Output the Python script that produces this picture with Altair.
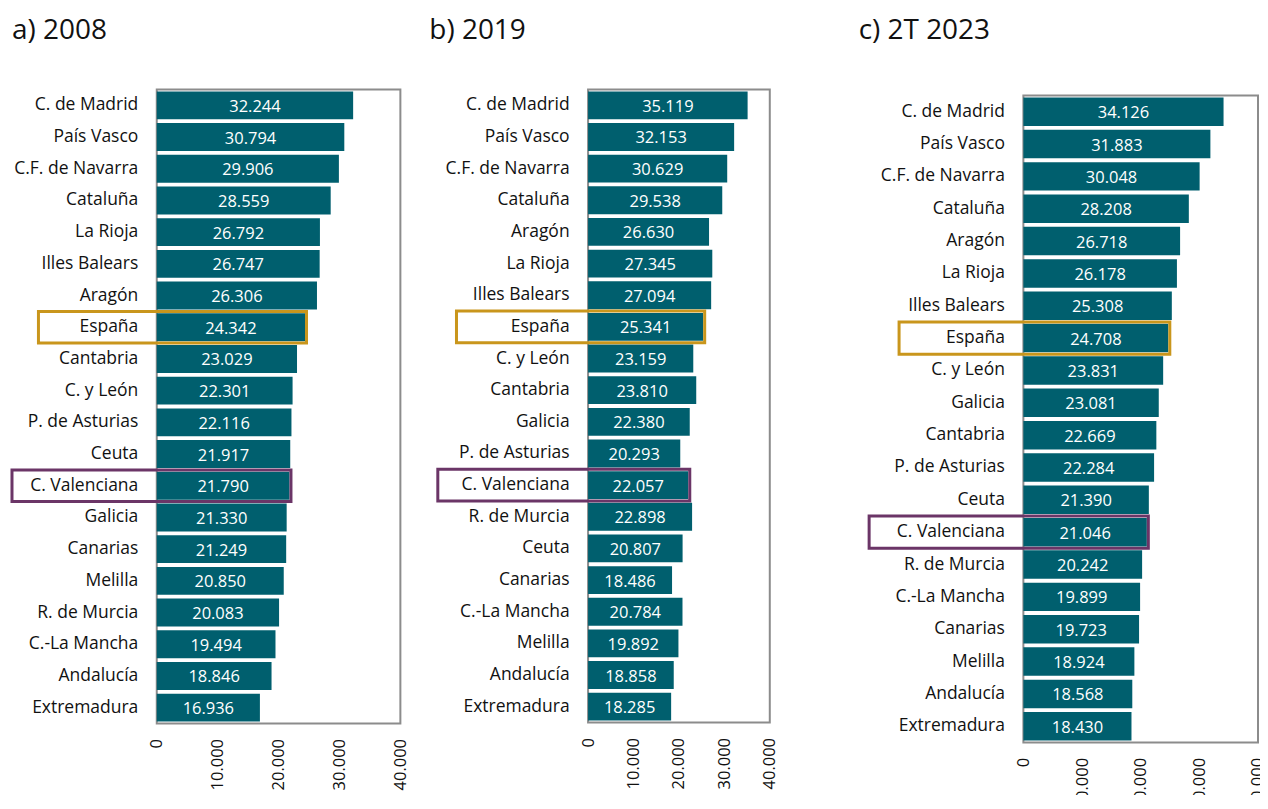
import altair as alt
import pandas as pd

# ---------------- data ----------------
regions_2008 = ["C. de Madrid", "País Vasco", "C.F. de Navarra", "Cataluña", "La Rioja",
                "Illes Balears", "Aragón", "España", "Cantabria", "C. y León",
                "P. de Asturias", "Ceuta", "C. Valenciana", "Galicia", "Canarias",
                "Melilla", "R. de Murcia", "C.-La Mancha", "Andalucía", "Extremadura"]
values_2008 = [32244, 30794, 29906, 28559, 26792, 26747, 26306, 24342, 23029, 22301,
               22116, 21917, 21790, 21330, 21249, 20850, 20083, 19494, 18846, 16936]

regions_2019 = ["C. de Madrid", "País Vasco", "C.F. de Navarra", "Cataluña", "Aragón",
                "La Rioja", "Illes Balears", "España", "C. y León", "Cantabria",
                "Galicia", "P. de Asturias", "C. Valenciana", "R. de Murcia", "Ceuta",
                "Canarias", "C.-La Mancha", "Melilla", "Andalucía", "Extremadura"]
values_2019 = [35119, 32153, 30629, 29538, 26630, 27345, 27094, 25341, 23159, 23810,
               22380, 20293, 22057, 22898, 20807, 18486, 20784, 19892, 18858, 18285]

regions_2023 = ["C. de Madrid", "País Vasco", "C.F. de Navarra", "Cataluña", "Aragón",
                "La Rioja", "Illes Balears", "España", "C. y León", "Galicia",
                "Cantabria", "P. de Asturias", "Ceuta", "C. Valenciana", "R. de Murcia",
                "C.-La Mancha", "Canarias", "Melilla", "Andalucía", "Extremadura"]
values_2023 = [34126, 31883, 30048, 28208, 26718, 26178, 25308, 24708, 23831, 23081,
               22669, 22284, 21390, 21046, 20242, 19899, 19723, 18924, 18568, 18430]

titles = ["a) 2008", "b) 2019", "c) 2T 2023"]
x_ticks = [0, 10000, 20000, 30000, 40000]

# ---------------- style ----------------
FONT = "Open Sans"
TEAL = "#005F6E"
GOLD = "#C9961C"
PURPLE = "#6B3567"
FRAME = "#8C8C8C"
TXT = "#111111"

# per-panel layout: width, height, top shift, title position, box left offsets
layouts = [
    dict(w=244, h=635, top=0, tx=-145, ty=-51, esp=118.5, cv=145.0),
    dict(w=182, h=634, top=0, tx=-159, ty=-51, esp=131.8, cv=150.5),
    dict(w=235, h=648, top=6, tx=-165, ty=-57, esp=124.5, cv=154.5),
]
GAPS = [188, 254]


def fmt(v):
    return f"{v:,}".replace(",", ".")


def spacer(w, h):
    return alt.Chart(pd.DataFrame({"s": [0]})).mark_point(opacity=0).encode(
        x=alt.value(0), y=alt.value(0)
    ).properties(width=w, height=h, view=alt.ViewBackground(stroke="transparent"))


def panel(regions, values, title, L):
    df = pd.DataFrame({"region": regions, "value": values})
    df["label"] = [fmt(v) for v in values]
    df["half"] = df["value"] / 2
    base = alt.Chart(df)

    xscale = alt.Scale(domain=[0, 40000], nice=False, zero=True)
    xaxis = alt.Axis(values=x_ticks, labelAngle=270, ticks=False, domain=False, grid=False,
                     labelPadding=15, labelFontSize=16.5, labelFont=FONT, labelColor=TXT,
                     labelExpr="replace(format(datum.value, ','), ',', '.')", title=None)
    yaxis = alt.Axis(ticks=False, domain=False, grid=False, labelPadding=19,
                     labelFontSize=17.5, labelFont=FONT, labelColor=TXT, labelLimit=300,
                     title=None)

    bars = base.mark_bar(color=TEAL).encode(
        x=alt.X("value:Q", scale=xscale, axis=xaxis),
        y=alt.Y("region:N", sort=regions,
                scale=alt.Scale(paddingInner=0.12, paddingOuter=0.06), axis=yaxis),
    )
    text = base.mark_text(color="white", fontSize=16.5, font=FONT, dy=1.5).encode(
        x=alt.X("half:Q", scale=xscale),
        y=alt.Y("region:N", sort=regions),
        text="label:N",
    )

    def box(name, color, left):
        return base.transform_filter(alt.datum.region == name).mark_rect(
            filled=False, stroke=color, strokeWidth=3, xOffset=1.5
        ).encode(
            x=alt.X("value:Q", scale=xscale),
            x2=alt.value(-left),
            y=alt.Y("region:N",
                    scale=alt.Scale(domain=regions, paddingInner=0, paddingOuter=0),
                    axis=None),
        )

    boxes = alt.layer(box("España", GOLD, L["esp"]), box("C. Valenciana", PURPLE, L["cv"]))

    head = alt.Chart(pd.DataFrame({"t": [title]})).mark_text(
        align="left", baseline="alphabetic", fontSize=28, font=FONT, color=TXT
    ).encode(x=alt.value(L["tx"]), y=alt.value(L["ty"]), text="t:N")

    ch = alt.layer(alt.layer(bars, text), boxes, head).resolve_scale(y="independent").properties(
        width=L["w"], height=L["h"],
        view=alt.ViewBackground(stroke=FRAME, strokeWidth=2),
    )
    if L["top"] > 0:
        ch = alt.vconcat(spacer(1, L["top"]), ch, spacing=0, bounds="flush")
    return ch


pa = panel(regions_2008, values_2008, titles[0], layouts[0])
pb = panel(regions_2019, values_2019, titles[1], layouts[1])
pc = panel(regions_2023, values_2023, titles[2], layouts[2])

chart = alt.hconcat(
    pa, spacer(GAPS[0], 1), pb, spacer(GAPS[1], 1), pc,
    spacing=0, bounds="flush",
).properties(
    padding={"left": 1, "top": 7, "right": -8, "bottom": -16},
).configure(background="white")

chart.save("out.html", embed_options={"renderer": "svg", "actions": False})
